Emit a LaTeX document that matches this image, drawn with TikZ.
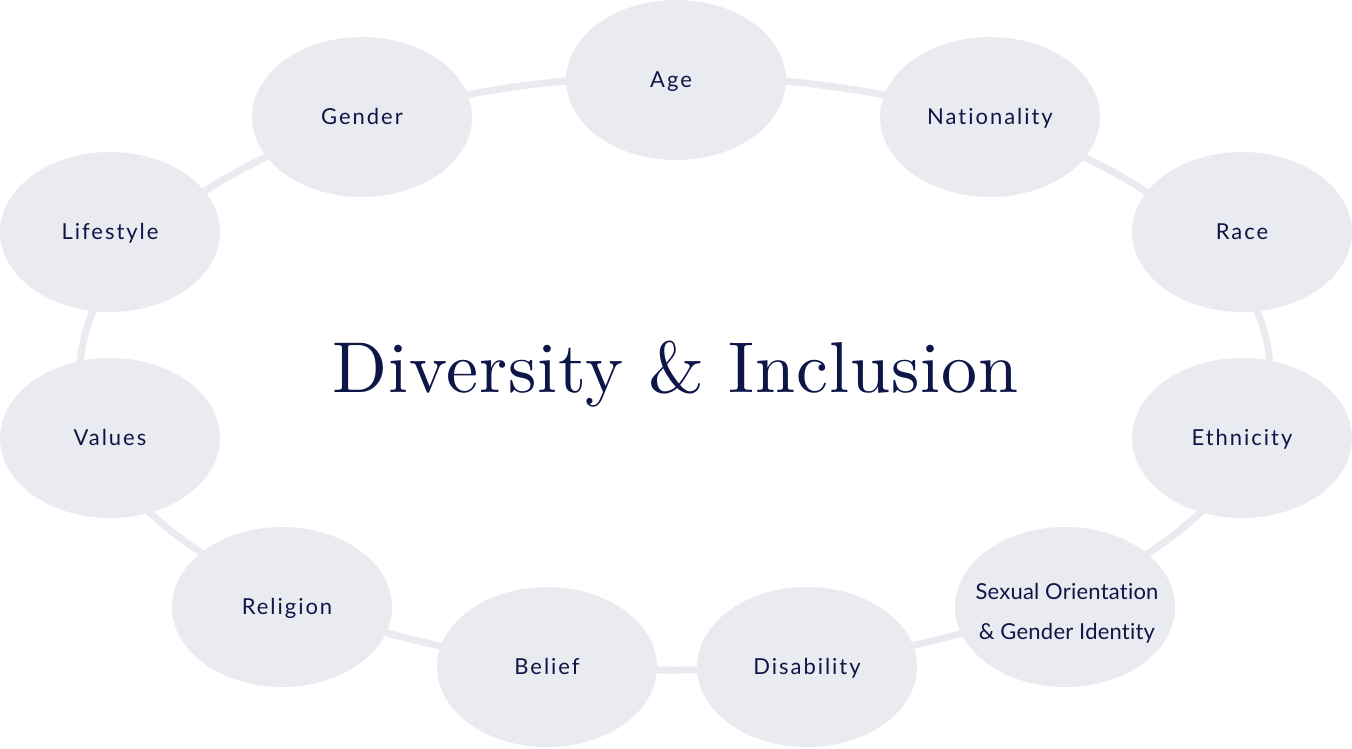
\documentclass[tikz,border=0pt]{standalone}
\usepackage{fontspec}
\newfontfamily\labelfont[LetterSpace=9,Ligatures=NoCommon]{Lato}
\newfontfamily\labelfonttight[LetterSpace=1,Ligatures=NoCommon]{Lato}
\newfontfamily\titlefont[LetterSpace=1.2]{lmroman10-regular.otf}
\usetikzlibrary{shapes.geometric}
\definecolor{blobc}{HTML}{EAEBF0}
\definecolor{navy}{HTML}{0E1648}
\tikzset{
  blob/.style={ellipse, fill=blobc, minimum width=220pt, minimum height=160pt, inner sep=0pt,
    text=navy, font=\labelfont\fontsize{22}{26}\selectfont, text height=16.5pt, text depth=1.5pt},
  ringstyle/.style={ellipse, draw=blobc, line width=7pt, minimum width=1190pt, minimum height=594pt, inner sep=0pt},
  titlestyle/.style={text=navy, font=\titlefont\fontsize{72}{72}\selectfont, inner sep=0pt, anchor=base},
  twoline/.style={text=navy, font=\labelfonttight\fontsize{22}{40}\selectfont, align=center, inner sep=0pt, anchor=base}
}
\begin{document}
\begin{tikzpicture}[x=1pt,y=-1pt]
\useasboundingbox (0,0) rectangle (1352,748);
\node[ringstyle] (ring) at (675,373) {};
\node[blob] (age) at (676,80) {\hspace*{-10pt}Age};
\node[blob] (gender) at (362,117) {Gender};
\node[blob] (nationality) at (990,117) {Nationality};
\node[blob] (lifestyle) at (110,232) {Lifestyle};
\node[blob] (race) at (1242,232) {Race};
\node[blob] (values) at (110,438) {Values};
\node[blob] (ethnicity) at (1242,438) {Ethnicity};
\node[blob] (religion) at (282,607) {\hspace*{10pt}Religion};
\node[blob] (sexual) at (1065,607) {};
\node[twoline] (sexualtext) at (1067,639) {Sexual Orientation\\\& Gender Identity};
\node[blob] (belief) at (547,667) {Belief};
\node[blob] (disability) at (807,667) {Disability};
\node[titlestyle] (title) at (675.5,392) {Diversity \& Inclusion};
\end{tikzpicture}
\end{document}
